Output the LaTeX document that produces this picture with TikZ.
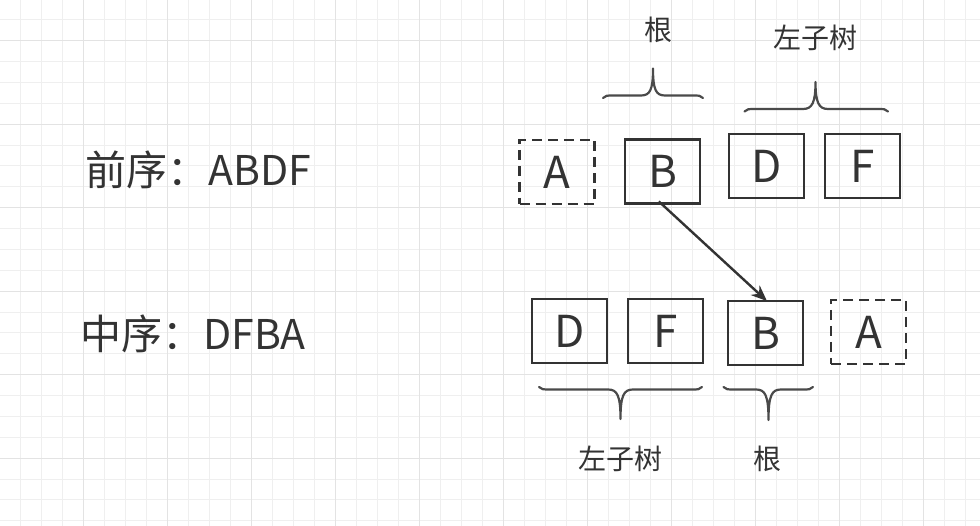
\documentclass[tikz,border=0pt]{standalone}
\usepackage{fontspec}
\setmainfont{Noto Sans CJK SC}
\usetikzlibrary{arrows.meta}
\definecolor{ink}{HTML}{333333}
\definecolor{brace}{HTML}{4A4A4A}
\definecolor{gridminor}{HTML}{EFEFEF}
\definecolor{gridmajor}{HTML}{E3E3E3}
\tikzset{
  cell/.style={draw=ink, line width=2.6pt, minimum width=75pt, minimum height=64pt, inner sep=0pt, text=ink, font=\fontsize{44}{48}\selectfont},
  dcell/.style={cell, dash pattern=on 10pt off 6pt},
  side/.style={text=ink, inner sep=0pt, anchor=west, font=\fontsize{41}{46}\selectfont},
  lbl/.style={text=ink, inner sep=0pt, font=\fontsize{28}{32}\selectfont},
  bracestyle/.style={draw=brace, line width=2.2pt, line cap=round, line join=round},
  conn/.style={draw=ink, line width=2.4pt, -{Stealth[length=16pt,width=13pt]}},
}
\begin{document}
\begin{tikzpicture}[x=1pt,y=-1pt]
\useasboundingbox (0,0) rectangle (980,526);
\fill[white] (0,0) rectangle (980,526);
% grid
\foreach \i in {-4,...,43} {
  \pgfmathsetmacro{\xx}{83.3+21*\i}
  \draw[gridminor, line width=1pt] (\xx,0) -- (\xx,526);
}
\foreach \i in {-2,...,23} {
  \pgfmathsetmacro{\yy}{40.7+20.875*\i}
  \draw[gridminor, line width=1pt] (0,\yy) -- (980,\yy);
}
\foreach \i in {-1,...,10} {
  \pgfmathsetmacro{\xx}{83.3+84*\i}
  \draw[gridmajor, line width=1.2pt] (\xx,0) -- (\xx,526);
}
\foreach \i in {0,...,5} {
  \pgfmathsetmacro{\yy}{40.7+83.5*\i}
  \draw[gridmajor, line width=1.2pt] (0,\yy) -- (980,\yy);
}
% left texts
\node[side] (pre) at (85,170) {前序：ABDF};
\node[side] (mid) at (80,334) {中序：DFBA};
% top row
\node[dcell] (At) at (557,172) {A};
\node[cell] (Bt) at (662.5,171.5) {B};
\node[cell] (Dt) at (766.5,166) {D};
\node[cell] (Ft) at (862.5,166) {F};
% bottom row
\node[cell] (Db) at (569.5,331) {D};
\node[cell] (Fb) at (665.5,331) {F};
\node[cell] (Bb) at (765.5,333) {B};
\node[dcell] (Ab) at (868.5,332) {A};
% labels
\node[lbl] (rootT) at (658,30) {根};
\node[lbl] (leftT) at (815,38) {左子树};
\node[lbl] (leftB) at (620,459) {左子树};
\node[lbl] (rootB) at (767,459) {根};
% top braces
\draw[bracestyle] (603,98) .. controls (606,95.5) .. (614,95.5) -- (641,95.5)
  .. controls (650,95.5) and (653,90) .. (653,68.5)
  .. controls (653,90) and (656,95.5) .. (665,95.5) -- (692,95.5)
  .. controls (700,95.5) .. (703,98);
\draw[bracestyle] (744.5,111.5) .. controls (747.5,109) .. (756,109) -- (803,109)
  .. controls (812,109) and (815.5,103) .. (815.5,82)
  .. controls (815.5,103) and (819,109) .. (828,109) -- (877,109)
  .. controls (885,109) .. (888,111.5);
% bottom braces
\draw[bracestyle] (539,387) .. controls (542,389.5) .. (551,389.5) -- (608,389.5)
  .. controls (617,389.5) and (620.5,395) .. (620.5,419)
  .. controls (620.5,395) and (624,389.5) .. (633,389.5) -- (691,389.5)
  .. controls (699,389.5) .. (702,387);
\draw[bracestyle] (723.5,387) .. controls (726.5,389.5) .. (735,389.5) -- (756,389.5)
  .. controls (765,389.5) and (768.5,395) .. (768.5,420)
  .. controls (768.5,395) and (772,389.5) .. (781,389.5) -- (802,389.5)
  .. controls (810,389.5) .. (813,387);
% connector
\draw[conn, shorten <=-5pt, shorten >=-2pt] (Bt.south) -- (Bb.north);
\end{tikzpicture}
\end{document}
